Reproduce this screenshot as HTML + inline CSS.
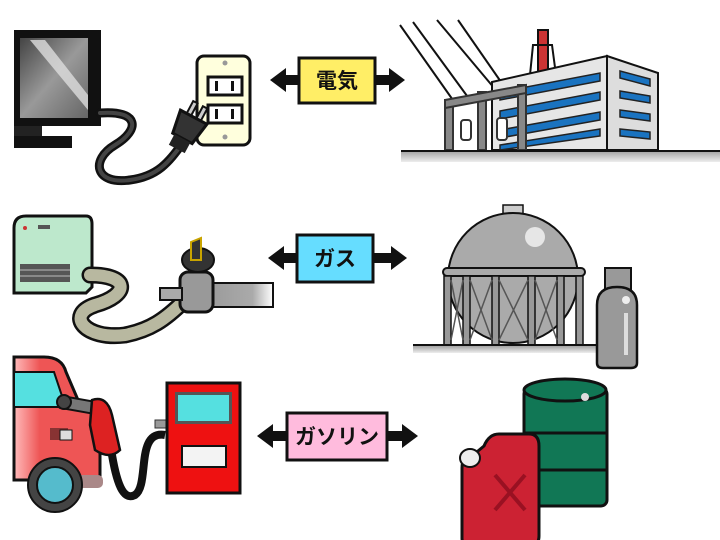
<!DOCTYPE html>
<html><head><meta charset="utf-8"><style>html,body{margin:0;padding:0;background:#fff;}svg{display:block}</style></head><body>
<svg width="720" height="540" viewBox="0 0 720 540" xmlns="http://www.w3.org/2000/svg" font-family="Liberation Sans, Noto Sans CJK JP, sans-serif">
<defs>
<linearGradient id="scr" x1="0" y1="0" x2="1" y2="1"><stop offset="0" stop-color="#444"/><stop offset="0.5" stop-color="#999"/><stop offset="1" stop-color="#666"/></linearGradient>
<linearGradient id="pipe" x1="0" y1="0" x2="1" y2="0"><stop offset="0" stop-color="#999"/><stop offset="0.7" stop-color="#aaa"/><stop offset="1" stop-color="#fff"/></linearGradient>
<linearGradient id="gnd" x1="0" y1="0" x2="0" y2="1"><stop offset="0" stop-color="#999"/><stop offset="1" stop-color="#eee"/></linearGradient>
<linearGradient id="car" x1="0" y1="0" x2="1" y2="0"><stop offset="0" stop-color="#fbb"/><stop offset="0.3" stop-color="#e55"/><stop offset="1" stop-color="#e55"/></linearGradient>
</defs>

<!-- TV -->
<rect x="14" y="30" width="87" height="96" fill="#111"/>
<rect x="20" y="38" width="68" height="80" fill="url(#scr)"/>
<polygon points="30,40 45,40 88,95 88,110" fill="#ddd" opacity="0.8"/>
<rect x="14" y="126" width="28" height="12" fill="#222"/>
<rect x="14" y="136" width="58" height="12" fill="#111"/>
<path d="M100,113 C140,110 140,130 115,145 C90,160 95,185 130,180 C160,176 170,160 185,140" fill="none" stroke="#111" stroke-width="9" stroke-linecap="round"/>
<path d="M100,113 C140,110 140,130 115,145 C90,160 95,185 130,180 C160,176 170,160 185,140" fill="none" stroke="#444" stroke-width="4" stroke-linecap="round"/>
<rect x="197" y="56" width="53" height="89" rx="7" fill="#ffffdd" stroke="#111" stroke-width="3"/>
<circle cx="225" cy="63" r="2.5" fill="#999"/><circle cx="225" cy="137" r="2.5" fill="#999"/>
<rect x="208" y="77" width="34" height="18" fill="#fff" stroke="#111" stroke-width="3"/>
<rect x="208" y="105" width="34" height="18" fill="#fff" stroke="#111" stroke-width="3"/>
<rect x="215" y="81" width="3" height="10" fill="#111"/><rect x="231" y="81" width="3" height="10" fill="#111"/>
<rect x="215" y="109" width="3" height="10" fill="#111"/><rect x="231" y="109" width="3" height="10" fill="#111"/>
<g transform="rotate(28 185 125)">
<rect x="181" y="100" width="5" height="14" fill="#ccc" stroke="#111" stroke-width="2"/>
<rect x="192" y="100" width="5" height="14" fill="#ccc" stroke="#111" stroke-width="2"/>
<path d="M174,114 h30 l-4,24 h-22 z" fill="#333" stroke="#111" stroke-width="3"/>
<rect x="180" y="138" width="18" height="12" fill="#222"/>
</g>

<polygon points="270,80 286,68 286,75 300,75 300,85 286,85 286,92" fill="#111"/>
<polygon points="405,80 389,68 389,75 374,75 374,85 389,85 389,92" fill="#111"/>
<rect x="299" y="58" width="76" height="45" fill="#ffee66" stroke="#111" stroke-width="3"/>
<text x="337" y="88" font-size="21" font-weight="bold" text-anchor="middle" fill="#111">電気</text>

<line x1="400" y1="25" x2="455" y2="103" stroke="#111" stroke-width="2"/>
<line x1="413" y1="22" x2="470" y2="100" stroke="#111" stroke-width="2"/>
<line x1="437" y1="20" x2="500" y2="95" stroke="#111" stroke-width="2"/>
<line x1="458" y1="20" x2="508" y2="92" stroke="#111" stroke-width="2"/>
<rect x="538" y="30" width="10" height="45" fill="#c33" stroke="#111" stroke-width="2"/>
<polygon points="530,75 533,45 552,45 556,75" fill="none" stroke="#111" stroke-width="2"/>
<polygon points="492,82 607,56 607,150 492,150" fill="#e6e6e6" stroke="#111" stroke-width="2"/>
<polygon points="607,56 658,73 658,150 607,150" fill="#ddd" stroke="#111" stroke-width="2"/>
<g fill="#1a73c0" stroke="#222" stroke-width="1.5">
<polygon points="500,92 600,73 600,81 500,100"/>
<polygon points="500,111 600,92 600,100 500,119"/>
<polygon points="500,130 600,112 600,120 500,138"/>
<polygon points="500,145 600,129 600,136 500,150"/>
<polygon points="620,71 650,79 650,86 620,78"/>
<polygon points="620,91 650,96 650,103 620,98"/>
<polygon points="620,110 650,114 650,121 620,117"/>
<polygon points="620,129 650,132 650,139 620,136"/>
</g>
<g fill="none" stroke="#333" stroke-width="2">
<rect x="445" y="100" width="8" height="50" fill="#888"/>
<rect x="478" y="92" width="8" height="58" fill="#888"/>
<rect x="518" y="85" width="8" height="65" fill="#888"/>
<polygon points="445,100 526,85 526,93 445,108" fill="#888"/>
<rect x="461" y="120" width="10" height="20" fill="#fff" rx="3"/>
<rect x="497" y="118" width="10" height="22" fill="#fff" rx="3"/>
</g>
<rect x="401" y="150" width="319" height="12" fill="url(#gnd)"/>
<line x1="401" y1="151" x2="720" y2="151" stroke="#111" stroke-width="2"/>

<path d="M14,228 q0,-12 12,-12 h60 q6,0 6,8 v63 l-6,6 h-72 z" fill="#bde8cc" stroke="#111" stroke-width="3"/>
<rect x="20" y="264" width="50" height="18" fill="#555"/>
<line x1="20" y1="270" x2="70" y2="270" stroke="#bbb"/><line x1="20" y1="276" x2="70" y2="276" stroke="#bbb"/>
<rect x="38" y="225" width="12" height="4" fill="#555"/><circle cx="25" cy="228" r="2" fill="#c33"/>
<path d="M90,275 C130,275 130,295 95,305 C65,315 85,340 125,335 C150,330 165,320 185,300" fill="none" stroke="#111" stroke-width="17" stroke-linecap="round"/>
<path d="M90,275 C130,275 130,295 95,305 C65,315 85,340 125,335 C150,330 165,320 185,300" fill="none" stroke="#b8b8a0" stroke-width="12" stroke-linecap="round"/>
<rect x="205" y="283" width="68" height="24" fill="url(#pipe)" stroke="#111" stroke-width="2"/>
<rect x="180" y="272" width="33" height="40" rx="8" fill="#999" stroke="#111" stroke-width="3"/>
<ellipse cx="198" cy="260" rx="16" ry="12" fill="#333" stroke="#111" stroke-width="2"/>
<path d="M191,242 l10,-4 v22 h-10 z" fill="#333" stroke="#c9a400" stroke-width="2"/>
<rect x="160" y="288" width="22" height="12" fill="#aaa" stroke="#111" stroke-width="2"/>

<polygon points="268,258 284,246 284,253 298,253 298,263 284,263 284,270" fill="#111"/>
<polygon points="407,258 391,246 391,253 373,253 373,263 391,263 391,270" fill="#111"/>
<rect x="297" y="235" width="76" height="47" fill="#66ddff" stroke="#111" stroke-width="3"/>
<text x="335" y="266" font-size="21" font-weight="bold" text-anchor="middle" fill="#111">ガス</text>

<rect x="503" y="205" width="20" height="10" fill="#ccc" stroke="#111" stroke-width="1.5"/>
<circle cx="513" cy="278" r="65" fill="#aaa" stroke="#111" stroke-width="2"/>
<circle cx="535" cy="237" r="10" fill="#e6e6e6"/>
<rect x="443" y="268" width="142" height="8" rx="4" fill="#aaa" stroke="#111" stroke-width="2"/>
<g stroke="#111" stroke-width="1.5" fill="#999">
<rect x="444" y="276" width="7" height="70"/><rect x="463" y="276" width="7" height="70"/>
<rect x="492" y="276" width="7" height="70"/><rect x="528" y="276" width="7" height="70"/>
<rect x="557" y="276" width="7" height="70"/><rect x="576" y="276" width="7" height="70"/>
</g>
<g stroke="#555" stroke-width="1.5">
<line x1="451" y1="280" x2="463" y2="340"/><line x1="463" y1="280" x2="451" y2="340"/>
<line x1="470" y1="280" x2="492" y2="340"/><line x1="492" y1="280" x2="470" y2="340"/>
<line x1="499" y1="280" x2="528" y2="340"/><line x1="528" y1="280" x2="499" y2="340"/>
<line x1="535" y1="280" x2="557" y2="340"/><line x1="557" y1="280" x2="535" y2="340"/>
</g>
<rect x="413" y="345" width="185" height="8" fill="url(#gnd)"/>
<line x1="413" y1="345" x2="598" y2="345" stroke="#111" stroke-width="2"/>
<rect x="605" y="268" width="26" height="22" fill="#999" stroke="#111" stroke-width="2"/>
<path d="M597,305 q0,-18 20,-18 q20,0 20,18 v58 q0,5 -6,5 h-28 q-6,0 -6,-5 z" fill="#999" stroke="#111" stroke-width="2.5"/>
<circle cx="626" cy="300" r="4" fill="#eee"/><rect x="624" y="313" width="4" height="42" fill="#ddd"/>

<path d="M14,357 h30 q18,0 22,15 l12,28 q20,5 22,35 v45 h-86 z" fill="url(#car)" stroke="#111" stroke-width="3"/>
<path d="M14,372 h40 l10,30 q1,5 -4,5 h-46 z" fill="#55e0e0" stroke="#111" stroke-width="2"/>
<rect x="50" y="428" width="18" height="12" fill="#833"/><rect x="60" y="430" width="12" height="10" fill="#ddd" stroke="#111"/>
<rect x="75" y="475" width="28" height="13" rx="5" fill="#a88"/>
<circle cx="55" cy="485" r="27" fill="#444" stroke="#111" stroke-width="2"/>
<circle cx="55" cy="485" r="18" fill="#55bbcc" stroke="#111" stroke-width="2"/>
<rect x="62" y="396" width="34" height="12" fill="#777" stroke="#111" stroke-width="2" transform="rotate(10 62 396)"/>
<circle cx="64" cy="402" r="7" fill="#444" stroke="#111" stroke-width="2"/>
<path d="M92,400 q15,-5 20,15 l8,35 q-10,10 -25,0 l-5,-25 z" fill="#dd2222" stroke="#111" stroke-width="2.5"/>
<path d="M112,455 C118,490 125,500 135,495 C150,485 135,430 165,435" fill="none" stroke="#111" stroke-width="8"/>
<rect x="155" y="420" width="14" height="8" fill="#999" stroke="#333"/>
<rect x="167" y="383" width="73" height="110" fill="#ee1111" stroke="#111" stroke-width="3"/>
<rect x="175" y="392" width="57" height="32" fill="#555"/>
<rect x="178" y="395" width="51" height="26" fill="#55e0e0"/>
<rect x="182" y="446" width="44" height="21" fill="#f3f3f3" stroke="#111" stroke-width="2"/>

<polygon points="257,436 273,424 273,431 288,431 288,441 273,441 273,448" fill="#111"/>
<polygon points="418,436 402,424 402,431 386,431 386,441 402,441 402,448" fill="#111"/>
<rect x="287" y="413" width="100" height="47" fill="#ffbbdd" stroke="#111" stroke-width="3"/>
<text x="337" y="444" font-size="21" font-weight="bold" text-anchor="middle" fill="#111">ガソリン</text>

<rect x="524" y="388" width="83" height="118" rx="6" fill="#117755" stroke="#111" stroke-width="3"/>
<ellipse cx="565" cy="390" rx="41" ry="11" fill="#117755" stroke="#111" stroke-width="3"/>
<circle cx="585" cy="397" r="4" fill="#ddd"/>
<line x1="524" y1="433" x2="607" y2="433" stroke="#111" stroke-width="3"/>
<line x1="524" y1="470" x2="607" y2="470" stroke="#111" stroke-width="3"/>
<path d="M462,468 q0,-12 10,-12 l12,-10 q5,-12 15,-12 h30 q10,0 10,12 v90 q0,10 -10,10 h-60 q-7,0 -7,-8 z" fill="#cc2233" stroke="#111" stroke-width="3"/>
<ellipse cx="470" cy="458" rx="10" ry="9" fill="#eee" stroke="#111" stroke-width="2"/>
<g stroke="#991122" stroke-width="4"><line x1="495" y1="475" x2="525" y2="510"/><line x1="525" y1="475" x2="495" y2="510"/></g>
</svg>
</body></html>
